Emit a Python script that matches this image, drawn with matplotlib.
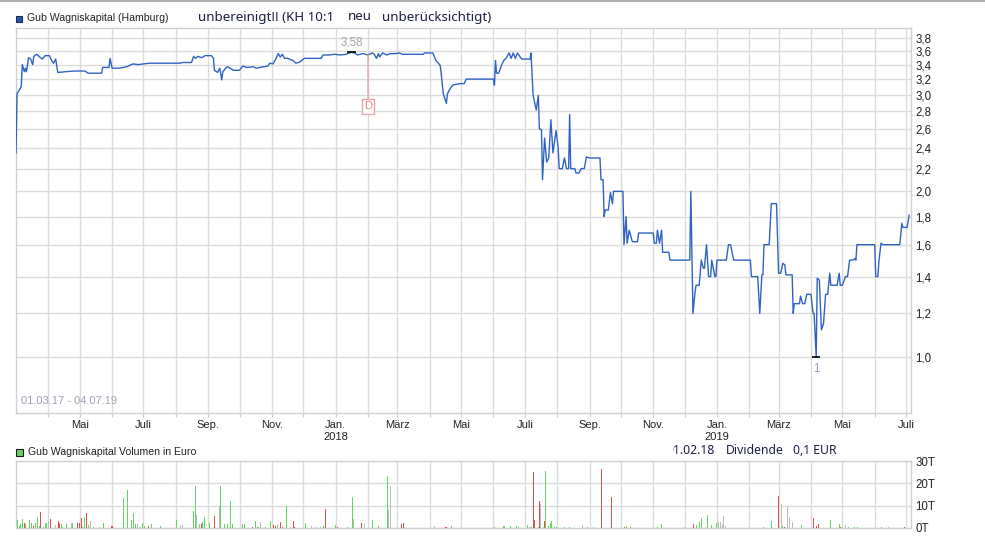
import numpy as np
import pandas as pd
import matplotlib
matplotlib.use("Agg")
import matplotlib.pyplot as plt
from matplotlib.patches import Rectangle
from matplotlib.lines import Line2D
from matplotlib.ticker import FixedLocator, NullLocator, NullFormatter

plt.rcParams["font.family"] = ["Liberation Sans", "DejaVu Sans"]

# --------------------------------------------------
# Kurs Gub Wagniskapital (Hamburg), unbereinigt
# --------------------------------------------------

price_dates = [
    "2017-03-01", "2017-03-02", "2017-03-06", "2017-03-07", "2017-03-09", "2017-03-10",
    "2017-03-11", "2017-03-13", "2017-03-15", "2017-03-17", "2017-03-18", "2017-03-21",
    "2017-03-23", "2017-03-26", "2017-03-29", "2017-04-02", "2017-04-04", "2017-04-06",
    "2017-04-08", "2017-04-10", "2017-04-17", "2017-04-26", "2017-05-06", "2017-05-09",
    "2017-05-22", "2017-05-23", "2017-05-29", "2017-05-30", "2017-06-01", "2017-06-08",
    "2017-06-15", "2017-06-21", "2017-06-26", "2017-07-01", "2017-07-07", "2017-08-05",
    "2017-08-07", "2017-08-16", "2017-08-18", "2017-08-20", "2017-08-22", "2017-08-26",
    "2017-08-29", "2017-09-04", "2017-09-06", "2017-09-07", "2017-09-10", "2017-09-12",
    "2017-09-14", "2017-09-15", "2017-09-19", "2017-09-22", "2017-09-25", "2017-10-01",
    "2017-10-04", "2017-10-08", "2017-10-14", "2017-10-17", "2017-10-28", "2017-10-30",
    "2017-11-02", "2017-11-05", "2017-11-07", "2017-11-09", "2017-11-11", "2017-11-13",
    "2017-11-16", "2017-11-21", "2017-11-24", "2017-11-28", "2017-12-02", "2017-12-18",
    "2017-12-20", "2017-12-26", "2017-12-31", "2018-01-05", "2018-01-11", "2018-01-16",
    "2018-01-19", "2018-01-22", "2018-01-27", "2018-02-01", "2018-02-05", "2018-02-07",
    "2018-02-09", "2018-02-11", "2018-02-12", "2018-02-15", "2018-02-19", "2018-02-22",
    "2018-02-27", "2018-03-03", "2018-03-06", "2018-03-26", "2018-03-27", "2018-04-04",
    "2018-04-07", "2018-04-11", "2018-04-12", "2018-04-14", "2018-04-17", "2018-04-18",
    "2018-04-20", "2018-04-23", "2018-04-30", "2018-05-04", "2018-05-06", "2018-06-01",
    "2018-06-02", "2018-06-03", "2018-06-04", "2018-06-06", "2018-06-09", "2018-06-11",
    "2018-06-13", "2018-06-16", "2018-06-18", "2018-06-20", "2018-06-22", "2018-06-24",
    "2018-06-28", "2018-07-06", "2018-07-07", "2018-07-09", "2018-07-12", "2018-07-14",
    "2018-07-15", "2018-07-17", "2018-07-18", "2018-07-20", "2018-07-22", "2018-07-24",
    "2018-07-26", "2018-07-28", "2018-07-31", "2018-08-02", "2018-08-03", "2018-08-06",
    "2018-08-08", "2018-08-10", "2018-08-12", "2018-08-13", "2018-08-14", "2018-08-18",
    "2018-08-19", "2018-08-22", "2018-08-24", "2018-08-27", "2018-08-29", "2018-09-01",
    "2018-09-11", "2018-09-12", "2018-09-14", "2018-09-15", "2018-09-16", "2018-09-19",
    "2018-09-21", "2018-09-23", "2018-09-24", "2018-10-03", "2018-10-04", "2018-10-06",
    "2018-10-07", "2018-10-09", "2018-10-12", "2018-10-17", "2018-10-18", "2018-11-01",
    "2018-11-02", "2018-11-04", "2018-11-05", "2018-11-07", "2018-11-09", "2018-11-10",
    "2018-11-16", "2018-11-17", "2018-12-06", "2018-12-07", "2018-12-09", "2018-12-11",
    "2018-12-12", "2018-12-15", "2018-12-17", "2018-12-19", "2018-12-20", "2018-12-22",
    "2018-12-24", "2018-12-26", "2018-12-27", "2018-12-30", "2018-12-31", "2019-01-01",
    "2019-01-10", "2019-01-12", "2019-01-14", "2019-01-17", "2019-02-02", "2019-02-03",
    "2019-02-09", "2019-02-11", "2019-02-13", "2019-02-14", "2019-02-15", "2019-02-20",
    "2019-02-22", "2019-02-27", "2019-03-01", "2019-03-03", "2019-03-05", "2019-03-07",
    "2019-03-08", "2019-03-14", "2019-03-15", "2019-03-16", "2019-03-21", "2019-03-22",
    "2019-03-24", "2019-03-26", "2019-03-28", "2019-04-01", "2019-04-03", "2019-04-04",
    "2019-04-06", "2019-04-07", "2019-04-09", "2019-04-11", "2019-04-13", "2019-04-15",
    "2019-04-17", "2019-04-19", "2019-04-20", "2019-04-26", "2019-04-28", "2019-04-29",
    "2019-05-01", "2019-05-04", "2019-05-06", "2019-05-08", "2019-05-11", "2019-05-13",
    "2019-05-14", "2019-05-15", "2019-06-01", "2019-06-02", "2019-06-04", "2019-06-05",
    "2019-06-07", "2019-06-09", "2019-06-25", "2019-06-27", "2019-06-28", "2019-07-02",
    "2019-07-04",
]

price_values = [
    2.35, 3.01, 3.10, 3.40, 3.30, 3.35, 3.30, 3.50, 3.48, 3.40, 3.52, 3.55,
    3.52, 3.48, 3.53, 3.53, 3.46, 3.42, 3.48, 3.29, 3.30, 3.31, 3.31, 3.28,
    3.28, 3.36, 3.36, 3.49, 3.35, 3.35, 3.37, 3.41, 3.40, 3.41, 3.42, 3.42,
    3.43, 3.43, 3.52, 3.49, 3.52, 3.50, 3.53, 3.53, 3.49, 3.32, 3.29, 3.35,
    3.19, 3.30, 3.37, 3.35, 3.32, 3.32, 3.38, 3.36, 3.37, 3.35, 3.38, 3.42,
    3.41, 3.49, 3.56, 3.51, 3.55, 3.49, 3.49, 3.46, 3.42, 3.44, 3.49, 3.49,
    3.54, 3.54, 3.55, 3.54, 3.55, 3.58, 3.57, 3.54, 3.56, 3.54, 3.57, 3.55,
    3.49, 3.56, 3.51, 3.57, 3.54, 3.56, 3.56, 3.57, 3.55, 3.55, 3.57, 3.57,
    3.46, 3.39, 3.28, 3.01, 2.89, 3.01, 3.06, 3.12, 3.14, 3.14, 3.20, 3.20,
    3.12, 3.46, 3.28, 3.28, 3.40, 3.46, 3.49, 3.57, 3.49, 3.57, 3.49, 3.57,
    3.48, 3.48, 3.57, 2.99, 2.81, 2.99, 2.60, 2.59, 2.10, 2.50, 2.26, 2.30,
    2.70, 2.35, 2.58, 2.40, 2.20, 2.20, 2.30, 2.20, 2.20, 2.76, 2.20, 2.20,
    2.16, 2.16, 2.20, 2.20, 2.31, 2.30, 2.30, 2.10, 2.10, 1.80, 1.85, 1.85,
    1.99, 1.90, 2.00, 2.00, 1.60, 1.80, 1.61, 1.70, 1.62, 1.62, 1.68, 1.68,
    1.61, 1.61, 1.70, 1.61, 1.70, 1.55, 1.55, 1.50, 1.50, 2.00, 1.20, 1.31,
    1.35, 1.35, 1.50, 1.45, 1.45, 1.60, 1.40, 1.40, 1.50, 1.40, 1.40, 1.50,
    1.50, 1.60, 1.60, 1.50, 1.50, 1.40, 1.40, 1.20, 1.41, 1.41, 1.60, 1.60,
    1.90, 1.90, 1.42, 1.42, 1.48, 1.47, 1.41, 1.41, 1.20, 1.25, 1.25, 1.29,
    1.25, 1.25, 1.30, 1.30, 1.20, 1.20, 1.00, 1.39, 1.38, 1.12, 1.15, 1.30,
    1.30, 1.42, 1.35, 1.35, 1.42, 1.35, 1.35, 1.40, 1.40, 1.50, 1.50, 1.51,
    1.50, 1.60, 1.60, 1.40, 1.40, 1.49, 1.61, 1.60, 1.60, 1.75, 1.72, 1.72,
    1.81,
]

# --------------------------------------------------
# Volumen in Euro (Tausend), g = steigend, r = fallend, n = unveraendert
# --------------------------------------------------

vol_dates = [
    "2017-03-02", "2017-03-04", "2017-03-05", "2017-03-07", "2017-03-09", "2017-03-10",
    "2017-03-13", "2017-03-15", "2017-03-17", "2017-03-19", "2017-03-21", "2017-03-23",
    "2017-03-24", "2017-03-27", "2017-03-29", "2017-03-30", "2017-04-01", "2017-04-03",
    "2017-04-07", "2017-04-10", "2017-04-11", "2017-04-13", "2017-04-14", "2017-04-18",
    "2017-04-23", "2017-04-24", "2017-04-28", "2017-04-30", "2017-05-02", "2017-05-03",
    "2017-05-05", "2017-05-07", "2017-05-09", "2017-05-11", "2017-05-14", "2017-05-19",
    "2017-05-23", "2017-05-31", "2017-06-01", "2017-06-11", "2017-06-15", "2017-06-19",
    "2017-06-21", "2017-06-23", "2017-06-25", "2017-06-27", "2017-06-30", "2017-07-02",
    "2017-07-05", "2017-07-08", "2017-07-17", "2017-08-01", "2017-08-05", "2017-08-07",
    "2017-08-17", "2017-08-19", "2017-08-20", "2017-08-23", "2017-08-25", "2017-08-26",
    "2017-08-28", "2017-09-02", "2017-09-07", "2017-09-11", "2017-09-12", "2017-09-16",
    "2017-09-19", "2017-09-22", "2017-09-24", "2017-10-03", "2017-10-05", "2017-10-13",
    "2017-10-16", "2017-10-18", "2017-10-19", "2017-10-21", "2017-10-25", "2017-10-30",
    "2017-11-02", "2017-11-04", "2017-11-06", "2017-11-09", "2017-11-11", "2017-11-14",
    "2017-11-18", "2017-11-21", "2017-11-22", "2017-12-03", "2017-12-08", "2017-12-12",
    "2017-12-17", "2017-12-20", "2017-12-22", "2017-12-31", "2018-01-02", "2018-01-12",
    "2018-01-17", "2018-01-18", "2018-01-25", "2018-01-28", "2018-02-05", "2018-02-11",
    "2018-02-19", "2018-02-20", "2018-02-22", "2018-03-05", "2018-03-06", "2018-04-05",
    "2018-04-16", "2018-04-17", "2018-04-21", "2018-06-02", "2018-06-10", "2018-06-11",
    "2018-06-17", "2018-06-23", "2018-06-25", "2018-07-03", "2018-07-05", "2018-07-07",
    "2018-07-09", "2018-07-10", "2018-07-14", "2018-07-15", "2018-07-16", "2018-07-18",
    "2018-07-19", "2018-07-20", "2018-07-23", "2018-07-25", "2018-07-26", "2018-07-29",
    "2018-07-31", "2018-08-08", "2018-08-12", "2018-08-25", "2018-08-30", "2018-09-04",
    "2018-09-12", "2018-09-22", "2018-10-04", "2018-10-06", "2018-10-10", "2018-11-05",
    "2018-11-08", "2018-11-30", "2018-12-09", "2018-12-12", "2018-12-15", "2018-12-17",
    "2018-12-22", "2018-12-26", "2018-12-31", "2019-01-02", "2019-01-04", "2019-01-06",
    "2019-01-07", "2019-01-09", "2019-02-14", "2019-02-22", "2019-02-28", "2019-03-03",
    "2019-03-04", "2019-03-06", "2019-03-09", "2019-03-11", "2019-03-14", "2019-03-22",
    "2019-04-03", "2019-04-06", "2019-04-08", "2019-04-19", "2019-04-28", "2019-04-29",
    "2019-05-01", "2019-05-04", "2019-05-06", "2019-05-12", "2019-05-15", "2019-06-07",
    "2019-06-14", "2019-06-29",
]

vol_values = [
    3.6, 1.0, 1.8, 3.9, 2.1, 1.8, 3.6, 2.1, 1.0, 2.4, 4.9, 1.0,
    7.3, 0.6, 2.4, 2.4, 3.3, 4.0, 1.3, 3.3, 2.4, 1.8, 0.6, 1.8,
    2.4, 2.4, 2.4, 2.1, 4.5, 0.6, 5.1, 6.6, 1.3, 3.3, 0.6, 0.6,
    2.1, 1.0, 1.0, 13.6, 17.0, 3.6, 6.7, 1.8, 1.8, 0.6, 2.1, 1.0,
    1.0, 1.8, 1.0, 3.6, 1.3, 1.3, 7.6, 18.8, 5.8, 1.8, 1.8, 2.5,
    5.1, 2.4, 5.5, 9.9, 18.8, 1.8, 1.8, 12.2, 1.8, 1.8, 1.8, 0.6,
    3.1, 0.6, 0.6, 2.5, 0.6, 3.1, 1.3, 1.0, 1.3, 2.5, 0.6, 9.9,
    0.6, 3.1, 0.6, 2.4, 1.0, 0.6, 0.6, 1.0, 8.5, 1.3, 0.3, 0.3,
    14.0, 4.0, 2.4, 1.8, 3.6, 1.0, 23.3, 8.1, 18.8, 1.8, 2.4, 1.0,
    0.6, 0.6, 1.0, 0.6, 1.0, 1.0, 1.0, 1.0, 0.6, 1.3, 0.6, 0.6,
    25.2, 3.6, 0.6, 12.2, 10.7, 0.6, 3.3, 25.7, 1.0, 2.1, 3.3, 0.6,
    0.3, 0.3, 0.3, 1.3, 0.3, 0.6, 26.3, 14.0, 0.6, 1.0, 0.6, 0.6,
    1.8, 0.6, 1.8, 1.3, 2.5, 4.6, 5.8, 1.3, 2.1, 3.3, 2.5, 1.8,
    5.5, 1.0, 0.6, 3.3, 14.5, 10.7, 1.0, 0.6, 9.9, 4.6, 2.8, 1.3,
    4.6, 1.0, 1.8, 3.6, 1.8, 0.6, 0.6, 1.3, 0.6, 0.6, 0.6, 0.6,
    0.6, 0.6,
]

vol_colors = [
    "g", "g", "g", "g", "r", "g", "g", "g", "r", "g", "g", "g",
    "r", "g", "g", "g", "n", "r", "n", "r", "r", "g", "g", "g",
    "n", "g", "r", "r", "r", "g", "g", "r", "g", "n", "g", "n",
    "g", "r", "r", "g", "g", "g", "g", "g", "n", "g", "g", "g",
    "r", "g", "g", "g", "n", "n", "g", "g", "n", "g", "r", "g",
    "g", "g", "r", "n", "g", "g", "g", "g", "g", "g", "g", "r",
    "g", "g", "g", "n", "g", "g", "r", "r", "g", "r", "r", "g",
    "n", "r", "r", "g", "n", "n", "n", "g", "r", "g", "r", "g",
    "g", "n", "r", "n", "g", "g", "g", "n", "n", "r", "r", "n",
    "r", "r", "g", "g", "g", "g", "g", "g", "g", "g", "g", "g",
    "r", "r", "g", "r", "n", "n", "r", "g", "g", "g", "g", "g",
    "g", "g", "g", "n", "g", "n", "r", "r", "r", "g", "g", "g",
    "g", "n", "r", "g", "g", "g", "g", "g", "g", "n", "n", "n",
    "n", "n", "g", "g", "r", "n", "g", "r", "n", "n", "n", "g",
    "r", "r", "r", "g", "g", "r", "n", "n", "g", "g", "g", "g",
    "n", "r",
]

price_ticks = [1.0, 1.2, 1.4, 1.6, 1.8, 2.0, 2.2, 2.4, 2.6, 2.8, 3.0, 3.2, 3.4, 3.6, 3.8]
vol_ticks = [0, 10, 20, 30]
month_names = {1: "Jan.", 3: "März", 5: "Mai", 7: "Juli", 9: "Sep.", 11: "Nov."}

dividend_date = "2018-02-01"
dividend_text = ["01.02.18", "Dividende", "0,1 EUR"]

# --------------------------------------------------
# Farben
# --------------------------------------------------

LINE_BLUE = "#2f63c3"
GRID = "#dcdcdc"
BAR_COLORS = {"g": "#5fd95f", "r": "#e05050", "n": "#bababa"}
NAVY = "#1c1f45"

W, H = 985, 538


def fx(px):
    return px / W


def fy(py):
    return 1 - py / H


price_dates = pd.to_datetime(price_dates)
vol_dates = pd.to_datetime(vol_dates)
price_values = np.array(price_values)

x_left = pd.Timestamp("2017-03-01")
x_right = pd.Timestamp("2019-07-05 18:00")

month_ticks = pd.date_range("2017-04-01", "2019-07-01", freq="MS")
tick_labels = []
for t in month_ticks:
    lab = month_names.get(t.month, "")
    if t.month == 1:
        lab += f"\n{t.year}"
    tick_labels.append(lab)

fig = plt.figure(figsize=(W / 100, H / 100), dpi=100)

ax = fig.add_axes([fx(16), fy(413), fx(911) - fx(16), fy(28) - fy(413)])
ax_vol = fig.add_axes([fx(16), fy(528), fx(911) - fx(16), fy(461) - fy(528)])

# --------------------------------------------------
# Kurs
# --------------------------------------------------

ax.plot(price_dates, price_values, color=LINE_BLUE, lw=1.0, zorder=3)

ax.set_yscale("log")
ax.set_ylim(0.791, 3.963)
ax.set_xlim(x_left, x_right)

ax.yaxis.set_major_locator(FixedLocator(price_ticks))
ax.yaxis.set_minor_locator(NullLocator())
ax.yaxis.set_minor_formatter(NullFormatter())
ax.set_yticklabels([f"{v:.1f}".replace(".", ",") for v in price_ticks])
ax.yaxis.tick_right()

ax.set_xticks(month_ticks)
ax.set_xticklabels(tick_labels)

for a in (ax, ax_vol):
    a.grid(True, color=GRID, lw=1, zorder=0)
    a.set_axisbelow(True)
    for s in a.spines.values():
        s.set_color("#d0d0d0")
        s.set_linewidth(1)
    a.tick_params(axis="x", length=3, color="#cccccc", labelsize=8,
                  labelcolor="#222222", pad=2)
    a.tick_params(axis="y", length=0, labelsize=8.3, labelcolor="#222222", pad=3)

# Hoch / Tief markieren
imax = int(np.argmax(price_values))
imin = int(np.argmin(price_values))
day = pd.Timedelta(days=4)

ax.hlines(price_values[imax], price_dates[imax] - day, price_dates[imax] + day,
          color="black", lw=1.2, zorder=4)
ax.annotate(f"{price_values[imax]:.2f}".replace(".", ","),
            xy=(price_dates[imax], price_values[imax]), xytext=(0, 3),
            textcoords="offset points", ha="center", va="bottom",
            fontsize=8.3, color="#a6a6a6")

ax.hlines(price_values[imin], price_dates[imin] - day, price_dates[imin] + day,
          color="black", lw=1.2, zorder=4)
ax.annotate(f"{price_values[imin]:g}",
            xy=(price_dates[imin], price_values[imin]), xytext=(0, -4),
            textcoords="offset points", ha="center", va="top",
            fontsize=8.3, color="#8d9cc4")

# Dividende
div_ts = pd.Timestamp(dividend_date)
div_price = price_values[list(price_dates).index(div_ts)]
ax.annotate("D", xy=(div_ts, div_price), xytext=(0, -37),
            textcoords="offset points", ha="center", va="center",
            fontsize=8, color="#e08a8a",
            bbox=dict(boxstyle="square,pad=0.2", fc="white", ec="#e8a4a4", lw=1),
            arrowprops=dict(arrowstyle="-", color="#e8a4a4", lw=1,
                            shrinkA=0, shrinkB=0),
            zorder=5)

ax.text(0.006, 0.018, "01.03.17 - 04.07.19", transform=ax.transAxes,
        fontsize=8, color="#9aa3b5", ha="left", va="bottom")

# --------------------------------------------------
# Volumen
# --------------------------------------------------

ax_vol.vlines(vol_dates, 0, vol_values, lw=0.72, antialiased=False,
              colors=[BAR_COLORS[c] for c in vol_colors], zorder=3)
ax_vol.set_xlim(x_left, x_right)
ax_vol.set_ylim(0, 30)
ax_vol.set_yticks(vol_ticks)
ax_vol.set_yticklabels([f"{v}T" for v in vol_ticks])
ax_vol.yaxis.tick_right()
ax_vol.set_xticks(month_ticks)
ax_vol.set_xticklabels([])
ax_vol.tick_params(axis="x", length=0)

# --------------------------------------------------
# Legenden und Texte
# --------------------------------------------------

fig.add_artist(Line2D([0, 1], [fy(1), fy(1)], color="#b0b0b0", lw=1.5))

fig.add_artist(Rectangle((fx(16), fy(22)), fx(6), 6 / H, fc="#2456b0",
                         ec="#1a2a55", lw=0.8, transform=fig.transFigure))
fig.text(fx(27), fy(18), "Gub Wagniskapital (Hamburg)", fontsize=7.6,
         color="#222222", va="center", ha="left")

fig.add_artist(Rectangle((fx(16), fy(456)), fx(7), 7 / H, fc="#66d766",
                         ec="#1a1a1a", lw=0.8, transform=fig.transFigure))
fig.text(fx(28), fy(452), "Gub Wagniskapital Volumen in Euro", fontsize=7.6,
         color="#222222", va="center", ha="left")

note_font = ["Noto Sans", "DejaVu Sans"]
fig.text(fx(198), fy(17), "unbereinigt!! (KH 10:1", fontsize=9.6,
         family=note_font, color=NAVY, va="center", ha="left")
fig.text(fx(348), fy(17), "neu", fontsize=9.6, family=note_font,
         color=NAVY, va="center", ha="left")
fig.text(fx(382), fy(17), "unberücksichtigt)", fontsize=9.6,
         family=note_font, color=NAVY, va="center", ha="left")

clip = Rectangle((fx(673), 0), 1, 1, transform=fig.transFigure)
t = fig.text(fx(715), fy(450), dividend_text[0], fontsize=8.8, family=note_font,
             color=NAVY, va="center", ha="right")
t.set_clip_path(clip)
t.set_clip_on(True)
fig.text(fx(726), fy(450), dividend_text[1], fontsize=8.8, family=note_font,
         color=NAVY, va="center", ha="left")
fig.text(fx(793), fy(450), dividend_text[2], fontsize=8.8, family=note_font,
         color=NAVY, va="center", ha="left")

fig.savefig("out.png", dpi=100, facecolor="white")
